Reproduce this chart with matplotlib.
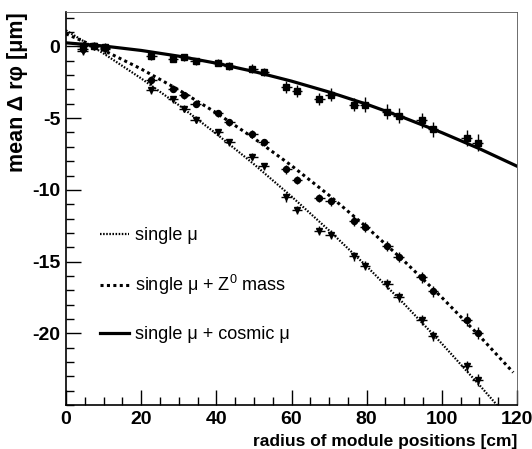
import matplotlib
matplotlib.use("Agg")
import matplotlib.pyplot as plt
from matplotlib.ticker import MultipleLocator, FixedLocator
import numpy as np

# ---- data ----
radius = [4.4, 7.5, 10.4, 22.7, 28.5, 31.5, 34.5, 40.5, 43.5, 49.6, 52.6,
          58.6, 61.5, 67.4, 70.4, 76.6, 79.6, 85.5, 88.5, 94.6, 97.6, 106.6, 109.5]

cosmic_y = [0.0, 0.05, -0.05, -0.7, -0.86, -0.75, -1.05, -1.14, -1.37, -1.56, -1.79,
            -2.84, -3.12, -3.65, -3.37, -4.05, -4.05, -4.54, -4.82, -5.16, -5.79, -6.37, -6.72]
cosmic_err = [0.3, 0.25, 0.3, 0.25, 0.25, 0.25, 0.25, 0.25, 0.25, 0.3, 0.3,
              0.4, 0.4, 0.4, 0.45, 0.45, 0.5, 0.5, 0.5, 0.5, 0.55, 0.55, 0.6]

z0_y = [-0.15, 0.0, -0.1, -2.37, -2.95, -3.42, -4.0, -4.65, -5.28, -6.09, -6.68,
        -8.58, -9.3, -10.58, -10.8, -12.14, -12.6, -13.93, -14.65, -16.1, -17.07, -19.05, -19.98]
z0_err = [0.3, 0.25, 0.3, 0.3, 0.25, 0.25, 0.25, 0.25, 0.25, 0.25, 0.25,
          0.3, 0.3, 0.3, 0.3, 0.35, 0.35, 0.35, 0.35, 0.4, 0.4, 0.45, 0.45]

single_y = [-0.3, 0.02, -0.2, -3.07, -3.7, -4.35, -5.12, -5.98, -6.68, -7.68, -8.35,
            -10.52, -11.4, -12.84, -13.12, -14.63, -15.28, -16.56, -17.5, -19.05, -20.17, -22.3, -23.26]
single_err = [0.3, 0.25, 0.3, 0.25, 0.25, 0.25, 0.25, 0.25, 0.25, 0.25, 0.25,
              0.3, 0.3, 0.3, 0.3, 0.3, 0.3, 0.35, 0.35, 0.35, 0.35, 0.4, 0.4]

x_err = 1.4

# fitted curves
fit_x = [0, 10, 20, 30, 40, 50, 60, 70, 80, 90, 100, 110, 120]
cosmic_fit = [0.25, 0.03, -0.28, -0.68, -1.17, -1.75, -2.42, -3.18, -4.03, -4.98, -6.01, -7.13, -8.35]
z0_fit_x = [0, 10, 20, 30, 40, 50, 60, 70, 80, 90, 100, 110, 119]
z0_fit = [0.88, -0.27, -1.57, -3.03, -4.63, -6.40, -8.31, -10.38, -12.60, -14.97, -17.50, -20.18, -22.73]
single_fit_x = [0, 10, 20, 30, 40, 50, 60, 70, 80, 90, 100, 110, 116]
single_fit = [1.12, -0.49, -2.23, -4.09, -6.09, -8.21, -10.46, -12.83, -15.33, -17.96, -20.72, -23.61, -25.4]

labels = ["single \u03bc", "single \u03bc + Z$^0$ mass", "single \u03bc + cosmic \u03bc"]
y_ticks = [0, -5, -10, -15, -20]
y_ticklabels = ["0", "-5", "-10", "-15", "-20"]

# ---- figure ----
plt.rcParams['font.family'] = ['Liberation Sans Narrow', 'Liberation Sans', 'DejaVu Sans']
plt.rcParams['mathtext.fontset'] = 'custom'
plt.rcParams['mathtext.rm'] = 'Liberation Sans'
plt.rcParams['axes.unicode_minus'] = False

fig = plt.figure(figsize=(5.32, 4.49), dpi=100)
ax = fig.add_axes([66/532, 1-405/449, (517-66)/532, (405-12)/449])

# curves
l1, = ax.plot(single_fit_x, single_fit, color='black', lw=1.6, linestyle=(0, (0.7, 0.7)))
l2, = ax.plot(z0_fit_x, z0_fit, color='black', lw=2.2, linestyle=(0, (1.0, 1.1)))
l3, = ax.plot(fit_x, cosmic_fit, color='black', lw=2.3, linestyle='-')

ekw = dict(ecolor='black', elinewidth=1.0, capsize=0, color='black', linestyle='none')
ax.errorbar(radius, single_y, yerr=single_err, xerr=x_err, marker='v', markersize=4.3, **ekw)
ax.errorbar(radius, z0_y, yerr=z0_err, xerr=x_err, marker='o', markersize=4.3, **ekw)
ax.errorbar(radius, cosmic_y, yerr=cosmic_err, xerr=x_err, marker='s', markersize=4.0, **ekw)

ax.set_xlim(0, 120)
ax.set_ylim(-25, 2.4)

ax.xaxis.set_major_locator(MultipleLocator(20))
ax.xaxis.set_minor_locator(MultipleLocator(5))
ax.yaxis.set_major_locator(FixedLocator(y_ticks))
ax.set_yticklabels(y_ticklabels)
ax.yaxis.set_minor_locator(MultipleLocator(1))
ax.tick_params(which='both', direction='in', top=False, right=False, width=1.0)
ax.tick_params(which='major', length=11)
ax.tick_params(which='minor', length=5.5)
ax.tick_params(axis='both', labelsize=14, pad=4)
for lab in ax.get_xticklabels() + ax.get_yticklabels():
    lab.set_fontweight('bold')

ax.spines['left'].set_linewidth(1.2)
ax.spines['bottom'].set_linewidth(1.2)
ax.spines['top'].set_linewidth(0.6)
ax.spines['right'].set_linewidth(0.6)
ax.spines['top'].set_color('#555555')
ax.spines['right'].set_color('#555555')

ax.set_xlabel("radius of module positions [cm]", fontsize=12.5, fontweight='bold')
ax.xaxis.set_label_coords(1.0, -0.075)
ax.xaxis.label.set_horizontalalignment('right')
ax.set_ylabel("mean \u0394 r\u03c6 [\u03bcm]", fontsize=15.5, fontweight='bold')
ax.yaxis.set_label_coords((18 - 66) / 451, 1.0)
ax.yaxis.label.set_horizontalalignment('right')
ax.yaxis.label.set_verticalalignment('center')

leg = ax.legend([l1, l2, l3], labels, loc='upper left', bbox_to_anchor=(0.04, 0.494),
                frameon=False, fontsize=13, handlelength=1.6, handletextpad=0.35,
                labelspacing=1.6)

fig.savefig("out.png", dpi=100)
